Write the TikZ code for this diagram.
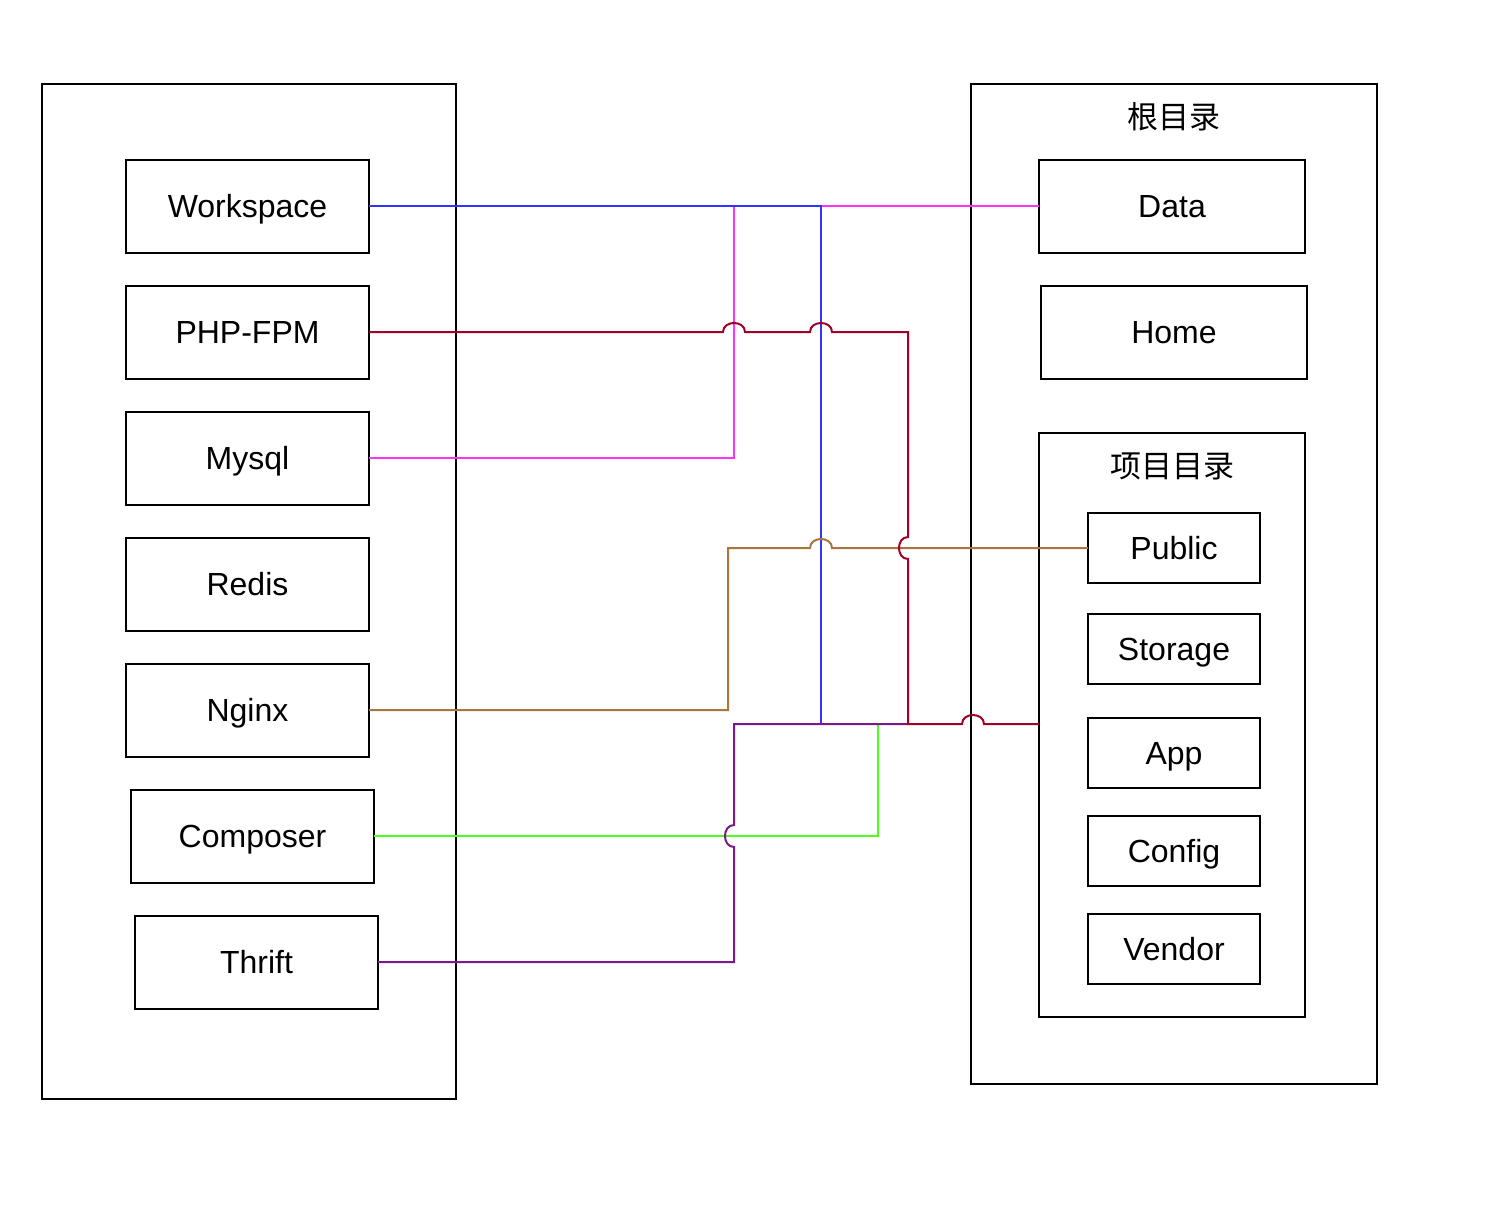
\documentclass[tikz,border=0pt]{standalone}
\usepackage{fontspec}
\setmainfont{Liberation Sans}
\newfontfamily\cjk{Noto Sans CJK SC}
\definecolor{cblue}{HTML}{3333FF}
\definecolor{cmag}{HTML}{FF33FF}
\definecolor{cred}{HTML}{A20025}
\definecolor{cbrown}{HTML}{A8773E}
\definecolor{cgreen}{HTML}{4DFF1A}
\definecolor{cpurple}{HTML}{7B1A8A}
\begin{document}
\begin{tikzpicture}[x=1pt,y=-1pt,
  box/.style={draw, line width=2pt, inner sep=0pt, outer sep=0pt, font=\fontsize{32}{38}\selectfont, text height=29pt, text depth=6.8pt},
  lbox/.style={box, minimum width=243pt, minimum height=93pt},
  rbox/.style={box, minimum width=266pt, minimum height=93pt},
  sbox/.style={box, minimum width=172pt, minimum height=70pt},
  frame/.style={draw, line width=2pt},
  title/.style={font=\cjk\fontsize{31}{37}\selectfont, inner sep=0pt},
  conn/.style={line width=2pt, line join=miter}]
\useasboundingbox (0,0) rectangle (1506,1204);
\fill[white] (0,0) rectangle (1506,1204);
% left frame
\draw[frame] (42,84) rectangle (456,1099);
\node[lbox] (ws) at (247.5,206) {Workspace};
\node[lbox] (php) at (247.5,332) {PHP-FPM};
\node[lbox] (mysql) at (247.5,458) {Mysql};
\node[lbox] (redis) at (247.5,584) {Redis};
\node[lbox] (nginx) at (247.5,710) {Nginx};
\node[lbox] (comp) at (252.5,836) {Composer};
\node[lbox] (thrift) at (256.5,962) {Thrift};
% right frame
\draw[frame] (971,84) rectangle (1377,1084);
\node[title] (root) at (1174,117) {根目录};
\node[rbox] (data) at (1172,206) {Data};
\node[rbox] (home) at (1174,332) {Home};
\draw[frame] (1039,433) rectangle (1305,1017);
\coordinate (pdw) at (1039,724);
\node[title] (proj) at (1172,466) {项目目录};
\node[sbox] (public) at (1174,548) {Public};
\node[sbox] (storage) at (1174,649) {Storage};
\node[sbox] (app) at (1174,753) {App};
\node[sbox] (config) at (1174,851) {Config};
\node[sbox] (vendor) at (1174,949) {Vendor};
% magenta: Mysql -> Data
\draw[conn, cmag] (mysql.east) -- (734,458) -- (734,206) -- (data.west);
% blue: Workspace
\draw[conn, cblue] (ws.east) -- (821,206) -- (821,724);
% brown: Nginx -> Public
\draw[conn, cbrown] (nginx.east) -- (728,710) -- (728,548) -- (810,548)
  .. controls (810,536) and (832,536) .. (832,548) -- (public.west);
% green: Composer
\draw[conn, cgreen] (comp.east) -- (878,836) -- (878,724);
% purple: Thrift
\draw[conn, cpurple] (thrift.east) -- (734,962) -- (734,847)
  .. controls (722,847) and (722,825) .. (734,825) -- (734,724) -- (908,724);
% red: PHP-FPM -> project dir
\draw[conn, cred] (php.east) -- (723,332)
  .. controls (723,320) and (745,320) .. (745,332) -- (810,332)
  .. controls (810,320) and (832,320) .. (832,332) -- (908,332) -- (908,537)
  .. controls (896,537) and (896,559) .. (908,559) -- (908,724) -- (962,724)
  .. controls (962,712) and (984,712) .. (984,724) -- (pdw);
\end{tikzpicture}
\end{document}
